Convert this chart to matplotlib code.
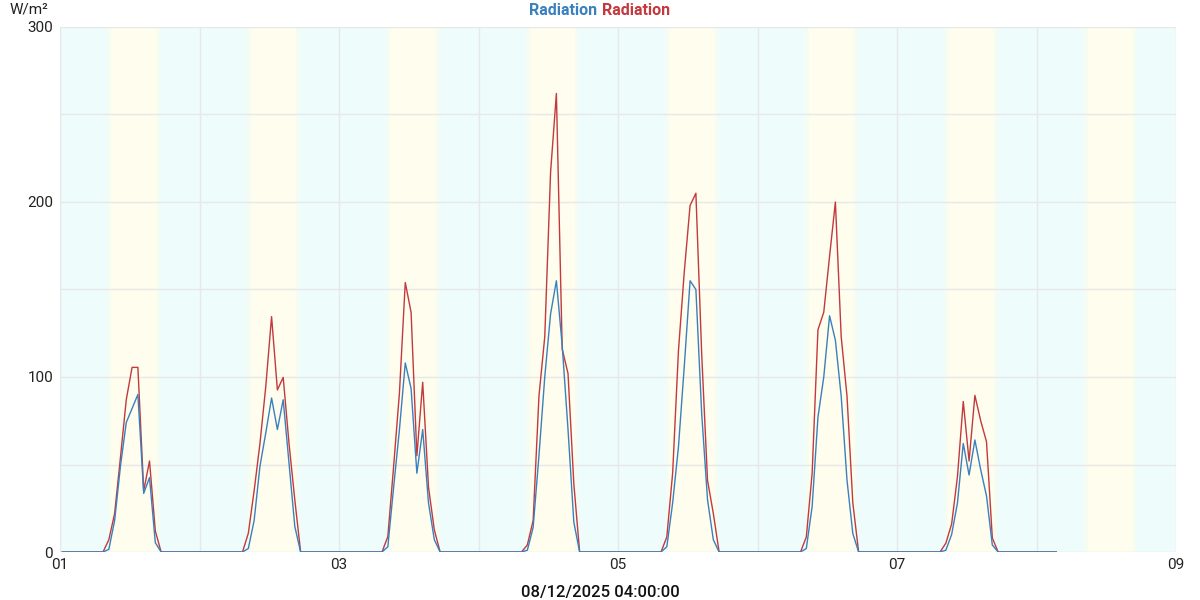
import numpy as np
import matplotlib
matplotlib.use('Agg')
from matplotlib import pyplot as plt
from matplotlib.ticker import MultipleLocator

# hourly samples, first one at day 01 00:24, last one at day 08 03:24
first_sample_day = 1 + 0.4 / 24
days_count = 7
night_tail_hours = 4
daylight_first_hour = 8

# daylight readings (hours 08..16) for each day, zero outside them
blue_daylight = [
    [1.5, 18, 49, 74, 82, 90, 33.5, 42.5, 5.3],
    [2, 18, 49, 68, 88, 70, 87, 51, 14.5],
    [3, 37, 70, 108, 93.5, 45, 70, 28, 7],
    [1, 14, 55, 100, 136, 155, 118, 70, 17],
    [3, 28, 60, 106, 155, 150, 79, 30, 7],
    [2, 26, 77, 100, 135, 121, 89, 41, 10.5],
    [1, 10, 28, 62, 44, 64, 47, 32, 4],
]
red_daylight = [
    [7, 22, 54, 87, 105.5, 105.5, 35, 52, 12],
    [10.7, 35, 62, 94.5, 134.5, 92.6, 99.8, 62, 29.7],
    [8.8, 49, 91, 154, 137, 55, 97, 37, 12.6],
    [4, 18, 89, 123, 217, 262, 116, 102, 39],
    [8.6, 45, 115, 160, 198, 205, 113, 41, 22],
    [8.6, 45, 127, 137, 169, 200, 123, 89, 28],
    [5, 16, 43, 86, 52, 89.5, 75, 63, 8],
]

# sunrise / sunset hours used for the background bands
sunrise_hour = 8.5
sunset_hour = 16.9
band_days = [1, 2, 3, 4, 5, 6, 7, 8]

y_ticks = [0, 100, 200, 300]
x_tick_days = [1, 3, 5, 7, 9]
x_tick_labels = ['01', '03', '05', '07', '09']
title_text = 'Radiation'
unit_text = 'W/m²'
time_label = '08/12/2025 04:00:00'


def build_series(daylight):
    values = []
    for day_values in daylight:
        day = np.zeros(24)
        day[daylight_first_hour:daylight_first_hour + len(day_values)] = day_values
        values.extend(day)
    values.extend(np.zeros(night_tail_hours))
    return np.array(values)


def main():
    plt.rcParams['font.family'] = ['Roboto', 'DejaVu Sans']

    blue = build_series(blue_daylight)
    red = build_series(red_daylight)
    times = first_sample_day + np.arange(len(blue)) / 24

    fig = plt.figure(figsize=(12, 6), dpi=100)
    ax = fig.add_axes([0.05, 0.08, 0.93, 0.875])

    night_color = '#eefdfc'
    day_color = '#fefdee'
    edge_color = '#f5fdf2'
    ax.axvspan(1, 9, color=night_color, lw=0, zorder=0)
    for d in band_days:
        rise = d + sunrise_hour / 24
        sets = d + sunset_hour / 24
        ax.axvspan(rise - 0.012, rise + 0.012, color=edge_color, lw=0, zorder=0)
        ax.axvspan(rise + 0.012, sets - 0.012, color=day_color, lw=0, zorder=0)
        ax.axvspan(sets - 0.012, sets + 0.012, color=edge_color, lw=0, zorder=0)

    ax.plot(times, red, color='#c2393e', lw=1.0, zorder=3)
    ax.plot(times, blue, color='#3a80bd', lw=1.0, zorder=4)

    ax.set_xlim(1, 9)
    ax.set_ylim(0, 300)
    ax.set_yticks(y_ticks)
    ax.yaxis.set_minor_locator(MultipleLocator(50))
    ax.set_xticks(x_tick_days)
    ax.set_xticklabels(x_tick_labels)
    ax.xaxis.set_minor_locator(MultipleLocator(1))
    ax.grid(which='both', color='#e8e8e8', lw=1.0, zorder=1)
    ax.set_axisbelow(True)
    ax.tick_params(which='both', length=0, labelsize=11, colors='#222222', pad=4)
    ax.tick_params(axis='y', pad=5)
    for spine in ax.spines.values():
        spine.set_visible(False)

    fig.text(0.5 - 0.002, 0.983, title_text, ha='right', va='center',
             fontsize=11.5, fontweight='bold', color='#3a80bd')
    fig.text(0.5 + 0.002, 0.983, title_text, ha='left', va='center',
             fontsize=11.5, fontweight='bold', color='#c2393e')
    fig.text(0.008, 0.985, unit_text, ha='left', va='center', fontsize=11, color='#222222')
    fig.text(0.5, 0.013, time_label, ha='center', va='center',
             fontsize=12, fontweight='medium', color='#111111')

    fig.savefig('out.png', dpi=100)


if __name__ == '__main__':
    main()
